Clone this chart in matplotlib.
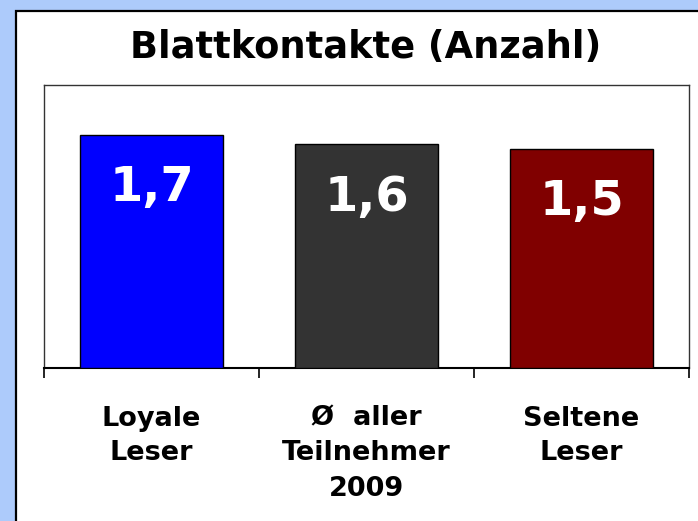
import matplotlib
matplotlib.use("Agg")
import matplotlib.pyplot as plt
from matplotlib.patches import Rectangle

categories = ["Loyale\nLeser", "Ø  aller\nTeilnehmer\n2009", "Seltene\nLeser"]
values = [1.65, 1.58, 1.55]
value_labels = ["1,7", "1,6", "1,5"]
colors = ["#0000FF", "#333333", "#800000"]
title = "Blattkontakte (Anzahl)"

plt.rcParams['font.family'] = ['DejaVu Sans']

fig = plt.figure(figsize=(6.98, 5.21), dpi=100)
fig.patch.set_facecolor("#adcbfb")

W, H = 698, 521
panel = Rectangle((16 / W, -0.05), 1.0, 1 - 11 / H + 0.05, transform=fig.transFigure,
                  facecolor="white", edgecolor="black", linewidth=1.6, zorder=-5)
fig.patches.append(panel)

ax = fig.add_axes([44 / W, 1 - 368 / H, (689 - 44) / W, (368 - 85) / H])
ax.set_zorder(2)
ax.set_facecolor("white")
x = list(range(len(categories)))
bars = ax.bar(x, values, width=0.667, color=colors, edgecolor="black", linewidth=1.0, zorder=3)
ax.set_xlim(-0.5, len(categories) - 0.5)
ax.set_ylim(0, 2.0)

for xi, v, lab in zip(x, values, value_labels):
    ax.annotate(lab, (xi, v), xytext=(0, -38), textcoords="offset points",
                ha="center", va="center", color="white", fontsize=34.5, fontweight="bold", zorder=4)

for s in ["top", "left", "right"]:
    ax.spines[s].set_color("#333333")
    ax.spines[s].set_linewidth(1.0)
ax.spines["bottom"].set_color("black")
ax.spines["bottom"].set_linewidth(1.5)

ax.set_yticks([])
ax.set_xticks(x)
ax.set_xticklabels(categories, fontsize=19.5, fontweight="bold", linespacing=1.45)
ax.tick_params(axis="x", which="major", length=0, pad=27)
ax.set_xticks([-0.5, 0.5, 1.5, 2.5], minor=True)
ax.tick_params(axis="x", which="minor", length=7.2, width=1.2, direction="out", color="black")

fig.text(366 / W, 1 - 48 / H, title, ha="center", va="center", fontsize=26.5, fontweight="bold")

fig.savefig("out.png", dpi=100, facecolor=fig.get_facecolor())
